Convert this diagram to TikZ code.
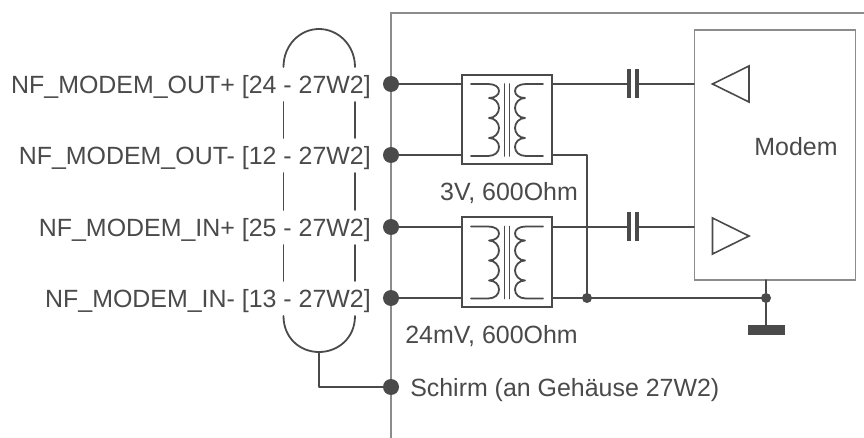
\documentclass[tikz,border=0pt]{standalone}
\usepackage{fontspec}
\setmainfont{Liberation Sans}
\definecolor{ink}{HTML}{4A4A4A}
\definecolor{frame}{HTML}{8C8C8C}
\tikzset{
  x=0.75pt,y=-0.75pt,
  wire/.style={draw=ink,line width=1.35pt,line cap=round,line join=round},
  thin box/.style={draw=frame,line width=1.1pt},
  tbox/.style={draw=ink,line width=1.5pt},
  tri/.style={draw=ink,line width=1.2pt,line join=miter},
  pin/.style={circle,fill=ink,inner sep=0pt,minimum size=12pt},
  junction/.style={circle,fill=ink,inner sep=0pt,minimum size=7.5pt},
  lab/.style={text=ink,font=\fontsize{18.7pt}{22pt}\selectfont,inner sep=0pt},
}
\newcommand{\xfmr}[2]{%
  \begin{scope}[yshift=#1*(-0.75pt)]
    \node[tbox,minimum width=67pt,minimum height=67pt,inner sep=0pt] (#2) at (507,119.5) {};
    \draw[wire] (471,84) -- (488,84) .. controls (495,84) and (499,87) .. (499,91)
      .. controls (499,95) and (495,98) .. (489,98) .. controls (495,98) and (499,103) .. (499,108)
      .. controls (499,113) and (495,118) .. (489,118) .. controls (495,118) and (499,123) .. (499,128)
      .. controls (499,133) and (495,138) .. (489,138) .. controls (495,138) and (499,142) .. (499,147)
      .. controls (499,152) and (495,156) .. (488,156) -- (471,156);
    \draw[wire] (543,84) -- (526,84) .. controls (519,84) and (515,87) .. (515,91)
      .. controls (515,95) and (519,98) .. (525,98) .. controls (519,98) and (515,103) .. (515,108)
      .. controls (515,113) and (519,118) .. (525,118) .. controls (519,118) and (515,123) .. (515,128)
      .. controls (515,133) and (519,138) .. (525,138) .. controls (519,138) and (515,142) .. (515,147)
      .. controls (515,152) and (519,156) .. (526,156) -- (543,156);
    \draw[wire] (504.5,84) -- (504.5,156) (509.5,84) -- (509.5,156);
  \end{scope}}
\begin{document}
\begin{tikzpicture}
\useasboundingbox (0,0) rectangle (864,438);
\fill[white] (0,0) rectangle (864,438);
% frame
\draw[thin box] (391,438) -- (391,13) -- (864,13);
% pins
\foreach \n/\y in {a/84,b/155,c/227,d/298,e/387}
  \node[pin] (\n) at (391,\y) {};
% labels
\node[lab,anchor=east] (la) at (371,87) {NF\_MODEM\_OUT+ [24 - 27W2]};
\node[lab,anchor=east] (lb) at (371,158) {NF\_MODEM\_OUT- [12 - 27W2]};
\node[lab,anchor=east] (lc) at (371,230) {NF\_MODEM\_IN+ [25 - 27W2]};
\node[lab,anchor=east] (ld) at (371,301) {NF\_MODEM\_IN- [13 - 27W2]};
\node[lab,anchor=west] (le) at (410,390) {Schirm (an Gehäuse 27W2)};
\node[lab] (t1) at (509,193) {3V, 600Ohm};
\node[lab] (t2) at (491.5,336) {24mV, 600Ohm};
% transformers
\xfmr{0}{x1}
\xfmr{142.5}{x2}
% modem
\node[thin box,minimum width=121pt,minimum height=187.5pt,inner sep=0pt] (m) at (775,155) {};
\node[lab] (mt) at (796,147) {Modem};
\draw[tri] (712.5,84) -- (749,66) -- (749,102) -- cycle;
\draw[tri] (749,236) -- (712.5,218) -- (712.5,254) -- cycle;
% wires
\draw[wire] (a) -- (462,84);
\draw[wire] (b) -- (462,155);
\draw[wire] (c) -- (462,227);
\draw[wire] (d) -- (462,298);
\draw[wire] (552,84) -- (694,84);
\draw[wire] (552,227) -- (694,227);
\draw[wire] (552,155) -- (587,155) -- (587,298);
\draw[wire] (552,298) -- (766,298);
\node[junction] (j1) at (587,298) {};
\node[junction] (j2) at (766,298) {};
\coordinate (g) at (766,325);
\draw[wire] (766,280) -- (j2) -- (g);
\fill[ink] (748,325) rectangle (785,335);
% capacitors
\foreach \y in {84,227}{
  \fill[white] (631,\y-3) rectangle (635,\y+3);
  \fill[ink] (627,\y-14.5) rectangle (631,\y+14.5);
  \fill[ink] (635,\y-14.5) rectangle (638.5,\y+14.5);
}
% shield
\draw[wire] (283.5,67) .. controls (283.5,45) and (300,29) .. (319,29) .. controls (338,29) and (355,45) .. (355,67);
\draw[wire] (283.5,316) .. controls (283.5,338) and (300,352) .. (319,352) .. controls (338,352) and (355,338) .. (355,316);
\foreach \ya/\yb in {102/138,173/210,245/281}{
  \draw[wire] (283.5,\ya) -- (283.5,\yb);
  \draw[wire] (355,\ya) -- (355,\yb);
}
\coordinate (s) at (319,352);
\draw[wire] (s) -- (319,387) -- (e);
\end{tikzpicture}
\end{document}
